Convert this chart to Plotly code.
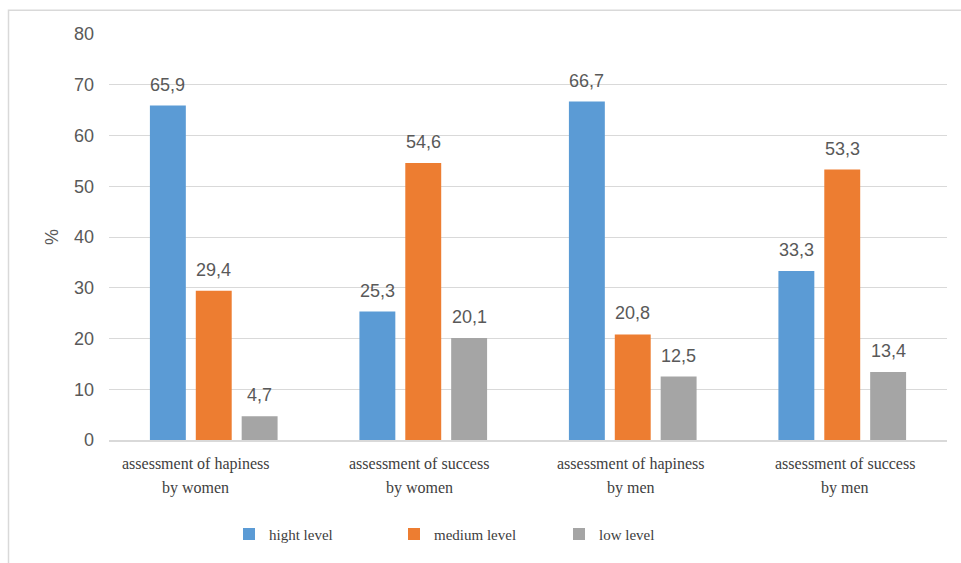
import plotly.graph_objects as go

# Chart data
categories = [
    "assessment of hapiness by women",
    "assessment of success by women",
    "assessment of hapiness by men",
    "assessment of success by men",
]
label_line1 = ["assessment of hapiness", "assessment of success",
               "assessment of hapiness", "assessment of success"]
label_line2 = ["by women", "by women", "by men", "by men"]

series_names = ["hight level", "medium level", "low level"]
high_level = [65.9, 25.3, 66.7, 33.3]
medium_level = [29.4, 54.6, 20.8, 53.3]
low_level = [4.7, 20.1, 12.5, 13.4]
colors = ["#5b9bd5", "#ed7d31", "#a5a5a5"]

y_ticks = [0, 10, 20, 30, 40, 50, 60, 70, 80]

W, H = 961, 563
ML, MR, MT, MB = 109, 14, 34, 120
PW, PH = W - ML - MR, H - MT - MB
BARGAP = 0.343
BARGROUPGAP = 0.217


def px_x(p):
    return (p - ML) / PW


def px_y(p):
    return (H - MB - p) / PH


series_vals = [high_level, medium_level, low_level]
n_series = len(series_vals)
cat_px = PW / len(categories)
slot_px = cat_px * (1 - BARGAP) / n_series

fig = go.Figure()
annotations = []
for i, (name, vals, col) in enumerate(zip(series_names, series_vals, colors)):
    fig.add_trace(go.Bar(
        x=categories, y=vals, name=name,
        marker=dict(color=col, line=dict(width=0)),
    ))
    # value labels above each bar
    for cat, v in zip(categories, vals):
        annotations.append(dict(
            x=cat, xref="x", y=v, yref="y",
            text=f"{v:.1f}".replace(".", ","),
            showarrow=False, yanchor="middle",
            xshift=(i - (n_series - 1) / 2) * slot_px, yshift=21,
            font=dict(family="Liberation Sans", size=18, color="#595959"),
        ))

# Two-line category labels beneath the axis
label_shift = [-18, -4, -2, 3]
for cat, l1, l2, sh in zip(categories, label_line1, label_line2, label_shift):
    for txt, ypix in ((l1, 467), (l2, 491)):
        annotations.append(dict(x=cat, xref="x", y=px_y(ypix), yref="paper", text=txt,
                                showarrow=False, yanchor="middle", xshift=sh,
                                font=dict(family="Liberation Serif", size=16, color="#404040")))

fig.update_layout(
    width=W, height=H,
    margin=dict(l=ML, r=MR, t=MT, b=MB),
    paper_bgcolor="white", plot_bgcolor="white",
    barmode="group", bargap=BARGAP, bargroupgap=BARGROUPGAP,
    showlegend=True,
    legend=dict(orientation="h", x=px_x(229), xanchor="left",
                y=px_y(538), yanchor="middle",
                font=dict(family="Liberation Serif", size=15, color="#404040"),
                entrywidth=120, itemsizing="constant"),
    annotations=annotations,
    shapes=[dict(type="rect", xref="paper", yref="paper",
                 x0=px_x(8.5), x1=px_x(990), y0=px_y(620), y1=px_y(10),
                 line=dict(color="#d9d9d9", width=1.5), layer="below")],
    xaxis=dict(showticklabels=False, showline=True, linecolor="#d9d9d9", linewidth=1.5,
               ticks="", showgrid=False),
    yaxis=dict(range=[0, 80], tickvals=y_ticks, showgrid=True, gridcolor="#d9d9d9",
               gridwidth=1.2, zeroline=False, showline=False, ticks="",
               ticklabelstandoff=14,
               tickfont=dict(family="Liberation Sans", size=18, color="#595959"),
               title=dict(text="%", standoff=10,
                          font=dict(family="Liberation Sans", size=18, color="#595959"))),
)

fig.write_html("out.html")
